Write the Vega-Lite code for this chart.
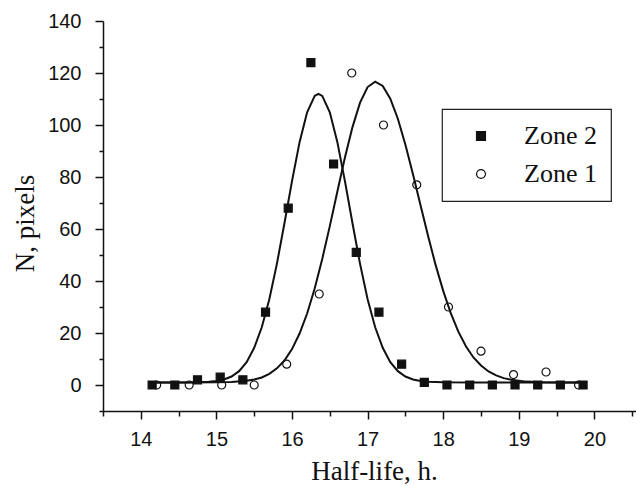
{
  "$schema": "https://vega.github.io/schema/vega-lite/v6.json",
  "width": 533,
  "height": 390,
  "autosize": {"type": "none"},
  "padding": {"left": 103, "top": 21, "right": 0, "bottom": 75},
  "background": "white",
  "config": {
    "view": {"stroke": null},
    "axis": {
      "domainColor": "#111111",
      "domainWidth": 1.5,
      "tickColor": "#111111",
      "tickWidth": 1.5,
      "labelFont": "Liberation Sans",
      "labelFontSize": 20,
      "labelColor": "#111111",
      "titleFont": "Liberation Serif",
      "titleFontSize": 27,
      "titleFontWeight": "normal",
      "titleColor": "#111111",
      "grid": false,
      "labelOverlap": false,
      "labelFlush": false
    },
    "legend": {
      "orient": "none",
      "legendX": 339,
      "legendY": 88,
      "strokeColor": "#222222",
      "strokeWidth": 1.2,
      "padding": 14,
      "labelFont": "Liberation Serif",
      "labelFontSize": 26,
      "labelColor": "#111111",
      "symbolSize": 80,
      "symbolOffset": 12,
      "labelOffset": 30,
      "rowPadding": 12,
      "symbolStrokeColor": "#111111",
      "symbolStrokeWidth": 1.2
    }
  },
  "datasets": {
    "points": [
      {"zone": "Zone 2", "halflife": 14.15, "n": 0},
      {"zone": "Zone 2", "halflife": 14.45, "n": 0},
      {"zone": "Zone 2", "halflife": 14.75, "n": 2},
      {"zone": "Zone 2", "halflife": 15.05, "n": 3},
      {"zone": "Zone 2", "halflife": 15.35, "n": 2},
      {"zone": "Zone 2", "halflife": 15.65, "n": 28},
      {"zone": "Zone 2", "halflife": 15.95, "n": 68},
      {"zone": "Zone 2", "halflife": 16.25, "n": 124},
      {"zone": "Zone 2", "halflife": 16.55, "n": 85},
      {"zone": "Zone 2", "halflife": 16.85, "n": 51},
      {"zone": "Zone 2", "halflife": 17.15, "n": 28},
      {"zone": "Zone 2", "halflife": 17.45, "n": 8},
      {"zone": "Zone 2", "halflife": 17.75, "n": 1},
      {"zone": "Zone 2", "halflife": 18.05, "n": 0},
      {"zone": "Zone 2", "halflife": 18.35, "n": 0},
      {"zone": "Zone 2", "halflife": 18.65, "n": 0},
      {"zone": "Zone 2", "halflife": 18.95, "n": 0},
      {"zone": "Zone 2", "halflife": 19.25, "n": 0},
      {"zone": "Zone 2", "halflife": 19.55, "n": 0},
      {"zone": "Zone 2", "halflife": 19.85, "n": 0},
      {"zone": "Zone 1", "halflife": 14.21, "n": 0},
      {"zone": "Zone 1", "halflife": 14.64, "n": 0},
      {"zone": "Zone 1", "halflife": 15.07, "n": 0},
      {"zone": "Zone 1", "halflife": 15.5, "n": 0},
      {"zone": "Zone 1", "halflife": 15.93, "n": 8},
      {"zone": "Zone 1", "halflife": 16.36, "n": 35},
      {"zone": "Zone 1", "halflife": 16.79, "n": 120},
      {"zone": "Zone 1", "halflife": 17.21, "n": 100},
      {"zone": "Zone 1", "halflife": 17.65, "n": 77},
      {"zone": "Zone 1", "halflife": 18.07, "n": 30},
      {"zone": "Zone 1", "halflife": 18.5, "n": 13},
      {"zone": "Zone 1", "halflife": 18.93, "n": 4},
      {"zone": "Zone 1", "halflife": 19.36, "n": 5},
      {"zone": "Zone 1", "halflife": 19.79, "n": 0}
    ],
    "curves": [
      {"zone": "Zone 2", "halflife": 14.1, "n": 1.0},
      {"zone": "Zone 2", "halflife": 14.5, "n": 1.0},
      {"zone": "Zone 2", "halflife": 14.7, "n": 1.04},
      {"zone": "Zone 2", "halflife": 14.9, "n": 1.23},
      {"zone": "Zone 2", "halflife": 15.0, "n": 1.52},
      {"zone": "Zone 2", "halflife": 15.1, "n": 2.12},
      {"zone": "Zone 2", "halflife": 15.2, "n": 3.27},
      {"zone": "Zone 2", "halflife": 15.3, "n": 5.33},
      {"zone": "Zone 2", "halflife": 15.4, "n": 8.8},
      {"zone": "Zone 2", "halflife": 15.5, "n": 14.3},
      {"zone": "Zone 2", "halflife": 15.6, "n": 22.2},
      {"zone": "Zone 2", "halflife": 15.7, "n": 33.0},
      {"zone": "Zone 2", "halflife": 15.8, "n": 46.6},
      {"zone": "Zone 2", "halflife": 15.9, "n": 62.2},
      {"zone": "Zone 2", "halflife": 16.0, "n": 78.4},
      {"zone": "Zone 2", "halflife": 16.1, "n": 93.4},
      {"zone": "Zone 2", "halflife": 16.2, "n": 104.9},
      {"zone": "Zone 2", "halflife": 16.3, "n": 111.2},
      {"zone": "Zone 2", "halflife": 16.35, "n": 112.0},
      {"zone": "Zone 2", "halflife": 16.4, "n": 111.2},
      {"zone": "Zone 2", "halflife": 16.5, "n": 104.9},
      {"zone": "Zone 2", "halflife": 16.6, "n": 93.4},
      {"zone": "Zone 2", "halflife": 16.7, "n": 78.4},
      {"zone": "Zone 2", "halflife": 16.8, "n": 62.2},
      {"zone": "Zone 2", "halflife": 16.9, "n": 46.6},
      {"zone": "Zone 2", "halflife": 17.0, "n": 33.0},
      {"zone": "Zone 2", "halflife": 17.1, "n": 22.2},
      {"zone": "Zone 2", "halflife": 17.2, "n": 14.3},
      {"zone": "Zone 2", "halflife": 17.3, "n": 8.8},
      {"zone": "Zone 2", "halflife": 17.4, "n": 5.33},
      {"zone": "Zone 2", "halflife": 17.5, "n": 3.27},
      {"zone": "Zone 2", "halflife": 17.6, "n": 2.12},
      {"zone": "Zone 2", "halflife": 17.7, "n": 1.52},
      {"zone": "Zone 2", "halflife": 17.8, "n": 1.23},
      {"zone": "Zone 2", "halflife": 18.0, "n": 1.04},
      {"zone": "Zone 2", "halflife": 18.4, "n": 1.0},
      {"zone": "Zone 2", "halflife": 19.9, "n": 1.0},
      {"zone": "Zone 1", "halflife": 14.1, "n": 1.0},
      {"zone": "Zone 1", "halflife": 14.6, "n": 1.0},
      {"zone": "Zone 1", "halflife": 15.0, "n": 1.04},
      {"zone": "Zone 1", "halflife": 15.2, "n": 1.16},
      {"zone": "Zone 1", "halflife": 15.4, "n": 1.6},
      {"zone": "Zone 1", "halflife": 15.5, "n": 2.1},
      {"zone": "Zone 1", "halflife": 15.6, "n": 2.9},
      {"zone": "Zone 1", "halflife": 15.7, "n": 4.3},
      {"zone": "Zone 1", "halflife": 15.8, "n": 6.4},
      {"zone": "Zone 1", "halflife": 15.9, "n": 9.4},
      {"zone": "Zone 1", "halflife": 16.0, "n": 13.8},
      {"zone": "Zone 1", "halflife": 16.1, "n": 19.8},
      {"zone": "Zone 1", "halflife": 16.2, "n": 27.5},
      {"zone": "Zone 1", "halflife": 16.3, "n": 37.1},
      {"zone": "Zone 1", "halflife": 16.4, "n": 48.5},
      {"zone": "Zone 1", "halflife": 16.5, "n": 61.1},
      {"zone": "Zone 1", "halflife": 16.6, "n": 74.4},
      {"zone": "Zone 1", "halflife": 16.7, "n": 87.5},
      {"zone": "Zone 1", "halflife": 16.8, "n": 99.2},
      {"zone": "Zone 1", "halflife": 16.9, "n": 108.6},
      {"zone": "Zone 1", "halflife": 17.0, "n": 114.6},
      {"zone": "Zone 1", "halflife": 17.1, "n": 116.7},
      {"zone": "Zone 1", "halflife": 17.2, "n": 115.0},
      {"zone": "Zone 1", "halflife": 17.3, "n": 110.1},
      {"zone": "Zone 1", "halflife": 17.4, "n": 102.4},
      {"zone": "Zone 1", "halflife": 17.5, "n": 92.4},
      {"zone": "Zone 1", "halflife": 17.6, "n": 81.1},
      {"zone": "Zone 1", "halflife": 17.7, "n": 69.1},
      {"zone": "Zone 1", "halflife": 17.8, "n": 57.3},
      {"zone": "Zone 1", "halflife": 17.9, "n": 46.1},
      {"zone": "Zone 1", "halflife": 18.0, "n": 36.2},
      {"zone": "Zone 1", "halflife": 18.1, "n": 27.6},
      {"zone": "Zone 1", "halflife": 18.2, "n": 20.5},
      {"zone": "Zone 1", "halflife": 18.3, "n": 14.9},
      {"zone": "Zone 1", "halflife": 18.4, "n": 10.6},
      {"zone": "Zone 1", "halflife": 18.5, "n": 7.5},
      {"zone": "Zone 1", "halflife": 18.6, "n": 5.2},
      {"zone": "Zone 1", "halflife": 18.7, "n": 3.7},
      {"zone": "Zone 1", "halflife": 18.8, "n": 2.65},
      {"zone": "Zone 1", "halflife": 18.9, "n": 2.0},
      {"zone": "Zone 1", "halflife": 19.1, "n": 1.3},
      {"zone": "Zone 1", "halflife": 19.3, "n": 1.1},
      {"zone": "Zone 1", "halflife": 19.6, "n": 1.0},
      {"zone": "Zone 1", "halflife": 19.9, "n": 1.0}
    ]
  },
  "layer": [
    {
      "data": {"name": "curves"},
      "mark": {"type": "line", "color": "#111111", "strokeWidth": 2},
      "encoding": {
        "x": {
          "field": "halflife", "type": "quantitative",
          "scale": {"domain": [13.5, 20.55], "nice": false, "zero": false},
          "axis": {
            "orient": "bottom",
            "values": [13.5, 14.5, 15.5, 16.5, 17.5, 18.5, 19.5, 20.5],
            "tickSize": 5, "labels": false, "domain": false, "title": null
          }
        },
        "y": {
          "field": "n", "type": "quantitative",
          "scale": {"domain": [-10, 140], "nice": false, "zero": false},
          "axis": {
            "orient": "left",
            "values": [-10, 10, 30, 50, 70, 90, 110, 130],
            "tickSize": 4, "labels": false, "domain": false, "title": null
          }
        },
        "detail": {"field": "zone", "type": "nominal"}
      }
    },
    {
      "data": {"name": "points"},
      "mark": {"type": "point", "filled": false, "strokeWidth": 1.2, "size": 64, "opacity": 1},
      "encoding": {
        "x": {
          "field": "halflife", "type": "quantitative",
          "scale": {"domain": [13.5, 20.55], "nice": false, "zero": false},
          "axis": {
            "orient": "bottom",
            "values": [14, 15, 16, 17, 18, 19, 20],
            "format": "d",
            "tickSize": 8, "labelPadding": 10,
            "title": "Half-life, h.", "titlePadding": 9, "titleX": 271
          }
        },
        "y": {
          "field": "n", "type": "quantitative",
          "scale": {"domain": [-10, 140], "nice": false, "zero": false},
          "axis": {
            "orient": "left",
            "values": [0, 20, 40, 60, 80, 100, 120, 140],
            "format": "d",
            "tickSize": 8, "labelPadding": 14,
            "title": "N, pixels", "titlePadding": 8, "titleY": 202
          }
        },
        "shape": {
          "field": "zone", "type": "nominal",
          "scale": {"domain": ["Zone 2", "Zone 1"], "range": ["square", "circle"]},
          "legend": {"title": null}
        },
        "fill": {
          "field": "zone", "type": "nominal",
          "scale": {"domain": ["Zone 2", "Zone 1"], "range": ["#111111", "transparent"]},
          "legend": {"title": null}
        },
        "stroke": {
          "field": "zone", "type": "nominal",
          "scale": {"domain": ["Zone 2", "Zone 1"], "range": ["#111111", "#111111"]},
          "legend": {"title": null}
        }
      }
    }
  ],
  "resolve": {"axis": {"x": "independent", "y": "independent"}}
}
